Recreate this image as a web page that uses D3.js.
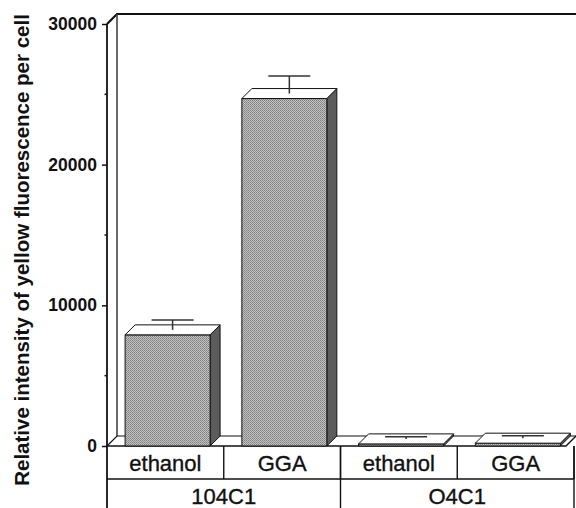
<!DOCTYPE html>
<html>
<head>
<meta charset="utf-8">
<script src="https://cdn.jsdelivr.net/npm/d3@7"></script>
<style>
  html, body { margin: 0; padding: 0; background: #fff; }
  svg { display: block; }
  text { font-family: "Liberation Sans", Arial, Helvetica, sans-serif; fill: #111; }
</style>
</head>
<body>
<script>
// Chart data
const strains = ["104C1", "O4C1"];
const treatments = ["ethanol", "GGA"];
const barLabels = ["ethanol", "GGA", "ethanol", "GGA"];
const barStrain = ["104C1", "104C1", "O4C1", "O4C1"];
const values = [7900, 24700, 150, 200];
const errors = [700, 1250, 150, 180];
const yTicks = [0, 10000, 20000, 30000];
const yMinorTicks = [5000, 15000, 25000];
const yTitle = "Relative intensity of yellow fluorescence per cell";

const W = 576, H = 508;
const left = 107, right = 574, floorY = 446, topY = 24;
const depth = 10;
const rowH = 33;

const svg = d3.select("body").append("svg").attr("width", W).attr("height", H);

// dotted texture for the bar fronts
const defs = svg.append("defs");
const pat = defs.append("pattern").attr("id", "dots")
  .attr("patternUnits", "userSpaceOnUse").attr("width", 2).attr("height", 2);
pat.append("rect").attr("width", 2).attr("height", 2).attr("fill", "#c4c4c4");
pat.append("rect").attr("width", 1).attr("height", 1).attr("fill", "#7e7e7e");
pat.append("rect").attr("x", 1).attr("y", 1).attr("width", 1).attr("height", 1).attr("fill", "#8e8e8e");

const y = d3.scaleLinear().domain([0, 30000]).range([floorY, topY]);
const x = d3.scaleBand().domain(d3.range(barLabels.length)).range([left, right]).padding(0);
const xs = d3.scaleBand().domain(strains).range([left, right]).padding(0);

const step = x.bandwidth();
const barOff = step * 0.155;
const barW = step * 0.728;

// back wall and floor
const frame = svg.append("g").attr("fill", "none").attr("stroke", "#111");
frame.append("path")
  .attr("d", `M${left},${y(30000)} L${left + depth},${y(30000) - depth} L${W + 2},${y(30000) - depth}`)
  .attr("stroke-width", 2.2);
frame.append("line")
  .attr("x1", left + depth).attr("x2", left + depth)
  .attr("y1", y(30000) - depth).attr("y2", floorY - depth)
  .attr("stroke", "#444").attr("stroke-width", 1.6);
frame.append("path")
  .attr("d", `M${left},${floorY} L${left + depth},${floorY - depth} L${W + 2},${floorY - depth}`)
  .attr("stroke-width", 1.2);
frame.append("path")
  .attr("d", `M${left},${floorY} L${right - 8},${floorY} L${right + 2},${floorY - depth}`)
  .attr("stroke-width", 1.4);

// bars drawn as 3-D boxes
const bars = svg.append("g");
values.forEach((v, i) => {
  const x0 = x(i) + barOff, x1 = x0 + barW;
  const yv = y(v), y0 = y(0);
  const g = bars.append("g").attr("stroke", "#111").attr("stroke-width", 1).attr("stroke-linejoin", "round");
  // side
  g.append("path")
    .attr("d", `M${x1},${yv} L${x1 + depth},${yv - depth} L${x1 + depth},${y0 - depth} L${x1},${y0} Z`)
    .attr("fill", "#5c5c5c");
  // front
  g.append("rect").attr("x", x0).attr("y", yv).attr("width", barW).attr("height", y0 - yv)
    .attr("fill", "url(#dots)");
  // top
  g.append("path")
    .attr("d", `M${x0},${yv} L${x0 + depth},${yv - depth} L${x1 + depth},${yv - depth} L${x1},${yv} Z`)
    .attr("fill", "#fff");
  // error bar from the middle of the top face
  const cx = (x0 + x1) / 2 + depth / 2;
  const yt = y(v + errors[i]) - depth / 2;
  const capHalf = 21;
  g.append("line").attr("x1", cx).attr("x2", cx).attr("y1", yv - depth / 2).attr("y2", yt)
    .attr("stroke", "#333").attr("stroke-width", 1.5);
  g.append("line").attr("x1", cx - capHalf).attr("x2", cx + capHalf).attr("y1", yt).attr("y2", yt)
    .attr("stroke", "#333").attr("stroke-width", 1.5);
});

// y axis
const yAxis = d3.axisLeft(y).tickValues(yTicks).tickFormat(d3.format("d")).tickSize(5).tickPadding(5);
const ag = svg.append("g").attr("transform", `translate(${left},0)`).call(yAxis);
ag.select(".domain").remove();
ag.selectAll(".tick line").attr("stroke", "#111").attr("stroke-width", 1.5);
ag.selectAll(".tick text")
  .style("font-family", "'Liberation Sans', Arial, sans-serif")
  .style("font-size", "17.5px").style("font-weight", "bold").attr("fill", "#111");
svg.append("g").selectAll("line").data(yMinorTicks).join("line")
  .attr("x1", left - 2.5).attr("x2", left).attr("y1", d => y(d)).attr("y2", d => y(d))
  .attr("stroke", "#111").attr("stroke-width", 1.5);
svg.append("line").attr("x1", left).attr("x2", left).attr("y1", y(30000)).attr("y2", H)
  .attr("stroke", "#111").attr("stroke-width", 1.8);

// y title
svg.append("text")
  .attr("transform", `translate(29,${(20 + 480) / 2}) rotate(-90)`)
  .attr("text-anchor", "middle")
  .style("font-size", "20.5px").style("font-weight", "bold")
  .text(yTitle);

// category table below the floor
const table = svg.append("g").attr("stroke", "#111").attr("stroke-width", 1.4);
table.append("line").attr("x1", left).attr("x2", right).attr("y1", floorY + rowH).attr("y2", floorY + rowH);
x.domain().forEach(i => {
  table.append("line").attr("x1", x(i) + step).attr("x2", x(i) + step)
    .attr("y1", floorY).attr("y2", floorY + rowH);
});
strains.forEach(s => {
  table.append("line").attr("x1", xs(s) + xs.bandwidth()).attr("x2", xs(s) + xs.bandwidth())
    .attr("y1", floorY).attr("y2", H);
});

svg.append("g").selectAll("text").data(barLabels).join("text")
  .attr("x", (d, i) => x(i) + step / 2)
  .attr("y", floorY + 25)
  .attr("text-anchor", "middle")
  .style("font-size", "22px")
  .attr("stroke", "#111").attr("stroke-width", 0.35)
  .text(d => d);

svg.append("g").selectAll("text").data(strains).join("text")
  .attr("x", d => xs(d) + xs.bandwidth() / 2)
  .attr("y", floorY + rowH + 25)
  .attr("text-anchor", "middle")
  .style("font-size", "22px")
  .attr("stroke", "#111").attr("stroke-width", 0.35)
  .text(d => d);
</script>
</body>
</html>
